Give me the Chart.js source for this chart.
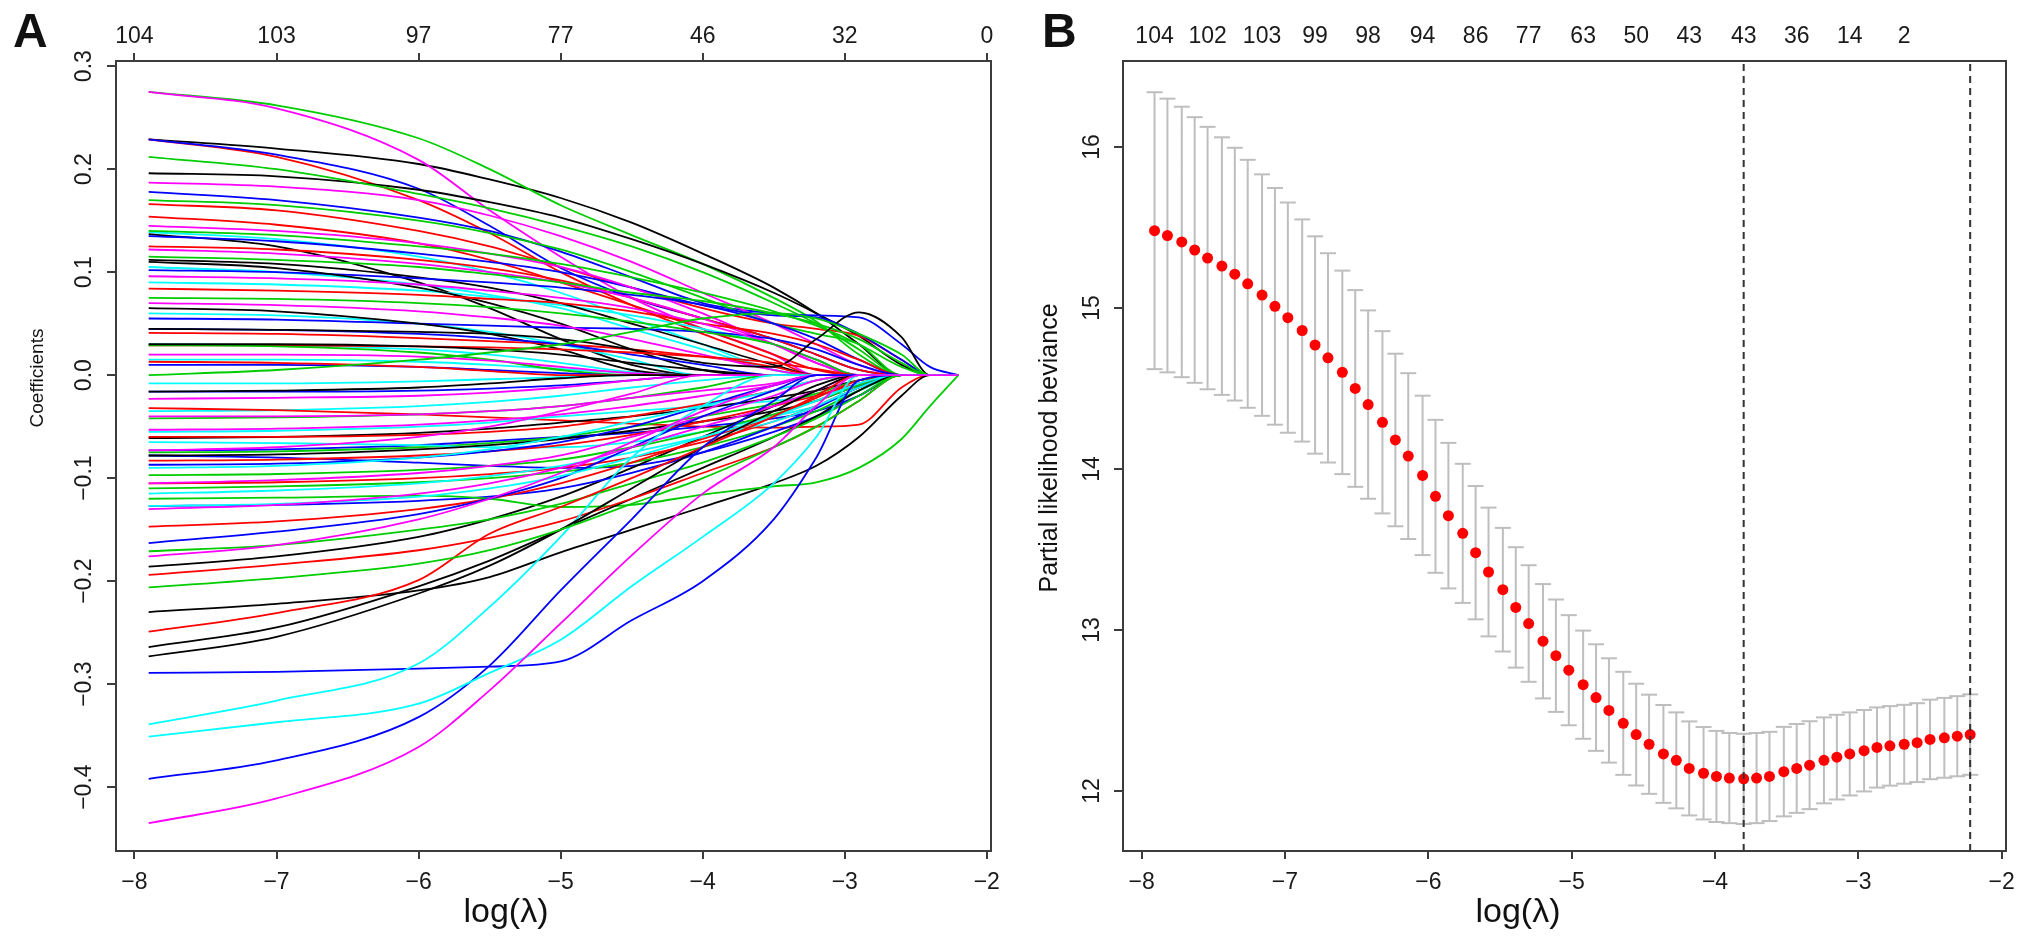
<!DOCTYPE html>
<html>
<head>
<meta charset="utf-8">
<title>LASSO coefficient paths and cross-validation</title>
<script src="https://cdn.jsdelivr.net/npm/chart.js@4.4.1/dist/chart.umd.min.js"></script>
<style>
    html, body { margin: 0; padding: 0; background: #fff; }
    #wrap { position: relative; width: 2031px; height: 950px; overflow: hidden; }
    canvas { position: absolute; top: 0; }
    #panelA { left: 0; }
    #panelB { left: 1010px; }
</style>
</head>
<body>
<div id="wrap">
    <canvas id="panelA" width="1010" height="950"></canvas>
    <canvas id="panelB" width="1021" height="950"></canvas>
</div>
<script>
// ---------- Panel A: coefficient paths ----------
// log(lambda) positions where each path was read off the picture
const pathLogLambda = [-7.9, -7, -6, -5.5, -5, -4.5, -4, -3.5, -3.2, -2.9, -2.6, -2.4, -2.2];

// paths grouped by the colour R cycled through (black, red, green3, blue, cyan, magenta)
const pathsBlack = [
    [0.229, 0.220, 0.205, 0.190, 0.172, 0.148, 0.118, 0.085, 0.060, 0.030, 0, 0, 0],
    [0.196, 0.193, 0.180, 0.168, 0.153, 0.132, 0.108, 0.080, 0.060, 0.038, 0.010, 0, 0],
    [0.137, 0.125, 0.090, 0.065, 0.035, 0.010, 0, 0, 0, 0, 0, 0, 0],
    [0.112, 0.108, 0.095, 0.085, 0.070, 0.050, 0.030, 0.010, 0, 0, 0, 0, 0],
    [0.110, 0.104, 0.085, 0.070, 0.050, 0.025, 0.005, 0, 0, 0, 0, 0, 0],
    [0.065, 0.062, 0.050, 0.040, 0.025, 0.005, 0, 0, 0, 0, 0, 0, 0],
    [0.045, 0.044, 0.042, 0.040, 0.035, 0.025, 0.012, 0.008, 0.035, 0.061, 0.037, 0, 0],
    [0.030, 0.030, 0.028, 0.025, 0.020, 0.012, 0.005, 0, 0, 0, 0, 0, 0],
    [-0.016, -0.015, -0.012, -0.008, -0.003, 0, 0, 0, 0, 0, 0, 0, 0],
    [-0.061, -0.060, -0.056, -0.052, -0.046, -0.040, -0.032, -0.022, -0.015, -0.005, 0, 0, 0],
    [-0.078, -0.077, -0.072, -0.068, -0.062, -0.054, -0.045, -0.035, -0.025, -0.010, 0, 0, 0],
    [-0.186, -0.176, -0.157, -0.140, -0.118, -0.090, -0.060, -0.030, -0.010, 0, 0, 0, 0],
    [-0.230, -0.222, -0.209, -0.196, -0.172, -0.150, -0.128, -0.105, -0.088, -0.060, -0.020, 0, 0],
    [-0.264, -0.245, -0.205, -0.180, -0.150, -0.120, -0.090, -0.060, -0.040, -0.015, 0, 0, 0],
    [-0.273, -0.254, -0.212, -0.185, -0.150, -0.110, -0.070, -0.035, -0.015, 0, 0, 0, 0]
];
const pathsRed = [
    [0.229, 0.212, 0.170, 0.138, 0.100, 0.068, 0.040, 0.015, 0, 0, 0, 0, 0],
    [0.166, 0.160, 0.140, 0.125, 0.105, 0.085, 0.065, 0.050, 0.045, 0.038, 0.015, 0, 0],
    [0.154, 0.146, 0.128, 0.112, 0.090, 0.068, 0.045, 0.020, 0.005, 0, 0, 0, 0],
    [0.125, 0.122, 0.112, 0.104, 0.092, 0.075, 0.055, 0.035, 0.020, 0.005, 0, 0, 0],
    [0.084, 0.082, 0.078, 0.074, 0.070, 0.062, 0.050, 0.040, 0.030, 0.015, 0, 0, 0],
    [0.041, 0.040, 0.036, 0.033, 0.030, 0.025, 0.018, 0.008, 0, 0, 0, 0, 0],
    [0.029, 0.029, 0.028, 0.027, 0.025, 0.022, 0.018, 0.012, 0.006, 0, 0, 0, 0],
    [0.013, 0.012, 0.008, 0.004, 0, 0, 0, 0, 0, 0, 0, 0, 0],
    [-0.032, -0.034, -0.038, -0.041, -0.044, -0.047, -0.050, -0.051, -0.050, -0.048, -0.012, 0, 0],
    [-0.060, -0.060, -0.058, -0.055, -0.050, -0.040, -0.028, -0.015, -0.005, 0, 0, 0, 0],
    [-0.083, -0.082, -0.078, -0.074, -0.068, -0.058, -0.045, -0.030, -0.020, -0.008, 0, 0, 0],
    [-0.105, -0.104, -0.100, -0.096, -0.090, -0.080, -0.065, -0.045, -0.030, -0.012, 0, 0, 0],
    [-0.147, -0.142, -0.130, -0.120, -0.105, -0.085, -0.062, -0.040, -0.022, -0.005, 0, 0, 0],
    [-0.194, -0.184, -0.170, -0.158, -0.142, -0.120, -0.095, -0.070, -0.050, -0.025, 0, 0, 0],
    [-0.249, -0.231, -0.199, -0.154, -0.128, -0.100, -0.070, -0.040, -0.020, 0, 0, 0, 0]
];
const pathsGreen = [
    [0.275, 0.262, 0.230, 0.200, 0.165, 0.136, 0.108, 0.075, 0.052, 0.020, 0, 0, 0],
    [0.212, 0.200, 0.176, 0.162, 0.145, 0.125, 0.100, 0.070, 0.050, 0.025, 0, 0, 0],
    [0.170, 0.165, 0.150, 0.138, 0.122, 0.100, 0.075, 0.050, 0.040, 0.030, 0, 0, 0],
    [0.140, 0.136, 0.125, 0.118, 0.108, 0.095, 0.080, 0.062, 0.048, 0.030, 0.008, 0, 0],
    [0.115, 0.112, 0.105, 0.098, 0.090, 0.080, 0.072, 0.060, 0.050, 0.035, 0.012, 0, 0],
    [0.075, 0.074, 0.070, 0.066, 0.060, 0.052, 0.042, 0.030, 0.015, 0, 0, 0, 0],
    [0.029, 0.028, 0.022, 0.015, 0.005, 0, 0, 0, 0, 0, 0, 0, 0],
    [0, 0.005, 0.015, 0.022, 0.030, 0.042, 0.055, 0.060, 0.055, 0.040, 0.020, 0, 0],
    [-0.042, -0.041, -0.038, -0.035, -0.030, -0.022, -0.012, 0, 0, 0, 0, 0, 0],
    [-0.075, -0.074, -0.070, -0.066, -0.060, -0.050, -0.040, -0.028, -0.018, -0.005, 0, 0, 0],
    [-0.097, -0.096, -0.092, -0.088, -0.082, -0.070, -0.055, -0.038, -0.025, -0.010, 0, 0, 0],
    [-0.110, -0.108, -0.104, -0.100, -0.094, -0.085, -0.070, -0.050, -0.035, -0.015, 0, 0, 0],
    [-0.120, -0.119, -0.117, -0.120, -0.128, -0.126, -0.116, -0.108, -0.104, -0.090, -0.062, -0.030, 0],
    [-0.171, -0.165, -0.150, -0.140, -0.125, -0.105, -0.085, -0.060, -0.042, -0.020, 0, 0, 0],
    [-0.206, -0.197, -0.183, -0.170, -0.150, -0.125, -0.100, -0.070, -0.050, -0.025, 0, 0, 0]
];
const pathsBlue = [
    [0.229, 0.214, 0.181, 0.145, 0.104, 0.075, 0.055, 0.035, 0.020, 0.005, 0, 0, 0],
    [0.178, 0.170, 0.153, 0.140, 0.120, 0.095, 0.070, 0.060, 0.058, 0.056, 0.030, 0.008, 0],
    [0.135, 0.130, 0.118, 0.110, 0.100, 0.085, 0.068, 0.058, 0.056, 0.040, 0.015, 0, 0],
    [0.102, 0.100, 0.094, 0.090, 0.085, 0.078, 0.068, 0.050, 0.035, 0.015, 0, 0, 0],
    [0.055, 0.054, 0.050, 0.048, 0.046, 0.045, 0.042, 0.035, 0.025, 0.010, 0, 0, 0],
    [0.045, 0.044, 0.040, 0.036, 0.030, 0.020, 0.010, 0, 0, 0, 0, 0, 0],
    [0.010, 0.010, 0.008, 0.005, 0.002, 0, 0, 0, 0, 0, 0, 0, 0],
    [-0.016, -0.016, -0.015, -0.013, -0.010, -0.005, 0, 0, 0, 0, 0, 0, 0],
    [-0.073, -0.072, -0.068, -0.064, -0.060, -0.056, -0.050, -0.042, -0.035, -0.020, 0, 0, 0],
    [-0.078, -0.080, -0.085, -0.088, -0.090, -0.088, -0.075, -0.055, -0.040, -0.020, 0, 0, 0],
    [-0.087, -0.086, -0.080, -0.074, -0.065, -0.050, -0.030, -0.010, 0, 0, 0, 0, 0],
    [-0.127, -0.126, -0.122, -0.118, -0.110, -0.095, -0.075, -0.050, -0.032, -0.012, 0, 0, 0],
    [-0.163, -0.152, -0.135, -0.120, -0.100, -0.070, -0.040, -0.015, 0, 0, 0, 0, 0],
    [-0.289, -0.288, -0.285, -0.283, -0.278, -0.238, -0.200, -0.140, -0.080, -0.005, 0, 0, 0],
    [-0.392, -0.374, -0.332, -0.282, -0.209, -0.140, -0.070, -0.025, 0, 0, 0, 0, 0]
];
const pathsCyan = [
    [0.139, 0.132, 0.115, 0.100, 0.080, 0.055, 0.030, 0.005, 0, 0, 0, 0, 0],
    [0.105, 0.100, 0.088, 0.078, 0.065, 0.045, 0.025, 0.005, 0, 0, 0, 0, 0],
    [0.090, 0.088, 0.082, 0.076, 0.068, 0.058, 0.045, 0.030, 0.015, 0, 0, 0, 0],
    [0.060, 0.058, 0.050, 0.042, 0.030, 0.015, 0, 0, 0, 0, 0, 0, 0],
    [0.030, 0.029, 0.025, 0.020, 0.012, 0.003, 0, 0, 0, 0, 0, 0, 0],
    [0.015, 0.015, 0.013, 0.010, 0.006, 0.002, 0, 0, 0, 0, 0, 0, 0],
    [-0.008, -0.008, -0.006, -0.004, -0.002, 0, 0, 0, 0, 0, 0, 0, 0],
    [-0.035, -0.034, -0.030, -0.026, -0.020, -0.012, -0.005, 0, 0, 0, 0, 0, 0],
    [-0.055, -0.054, -0.050, -0.046, -0.040, -0.035, -0.030, -0.025, -0.020, -0.010, 0, 0, 0],
    [-0.065, -0.066, -0.068, -0.070, -0.070, -0.065, -0.055, -0.040, -0.030, -0.015, 0, 0, 0],
    [-0.090, -0.088, -0.080, -0.072, -0.060, -0.045, -0.030, -0.015, -0.005, 0, 0, 0, 0],
    [-0.115, -0.112, -0.105, -0.098, -0.088, -0.075, -0.060, -0.045, -0.030, -0.012, 0, 0, 0],
    [-0.127, -0.125, -0.118, -0.110, -0.098, -0.080, -0.060, -0.040, -0.025, -0.008, 0, 0, 0],
    [-0.339, -0.316, -0.280, -0.225, -0.157, -0.080, -0.030, 0, 0, 0, 0, 0, 0],
    [-0.351, -0.337, -0.319, -0.289, -0.257, -0.205, -0.157, -0.105, -0.060, 0, 0, 0, 0]
];
const pathsMagenta = [
    [0.275, 0.259, 0.209, 0.160, 0.115, 0.075, 0.045, 0.020, 0, 0, 0, 0, 0],
    [0.187, 0.183, 0.170, 0.155, 0.135, 0.110, 0.080, 0.050, 0.030, 0.010, 0, 0, 0],
    [0.145, 0.140, 0.128, 0.118, 0.105, 0.085, 0.060, 0.030, 0.012, 0, 0, 0, 0],
    [0.122, 0.118, 0.108, 0.100, 0.090, 0.075, 0.055, 0.030, 0.012, 0, 0, 0, 0],
    [0.096, 0.094, 0.088, 0.082, 0.075, 0.065, 0.050, 0.030, 0.015, 0, 0, 0, 0],
    [0.070, 0.068, 0.062, 0.056, 0.048, 0.035, 0.020, 0.005, 0, 0, 0, 0, 0],
    [0.020, 0.020, 0.018, 0.014, 0.008, 0.002, 0, 0, 0, 0, 0, 0, 0],
    [-0.023, -0.022, -0.020, -0.017, -0.012, -0.005, 0, 0, 0, 0, 0, 0, 0],
    [-0.040, -0.040, -0.038, -0.035, -0.030, -0.022, -0.015, -0.008, 0, 0, 0, 0, 0],
    [-0.053, -0.052, -0.048, -0.044, -0.038, -0.030, -0.020, -0.010, 0, 0, 0, 0, 0],
    [-0.073, -0.070, -0.060, -0.050, -0.035, -0.018, 0, 0, 0, 0, 0, 0, 0],
    [-0.105, -0.102, -0.095, -0.088, -0.078, -0.060, -0.040, -0.020, -0.005, 0, 0, 0, 0],
    [-0.130, -0.126, -0.115, -0.105, -0.090, -0.070, -0.050, -0.030, -0.015, 0, 0, 0, 0],
    [-0.176, -0.165, -0.140, -0.120, -0.095, -0.065, -0.035, -0.010, 0, 0, 0, 0, 0],
    [-0.435, -0.411, -0.361, -0.306, -0.241, -0.175, -0.115, -0.070, -0.030, 0, 0, 0, 0]
];

const logLambdaTicks = [-8, -7, -6, -5, -4, -3, -2];
const coefTicks = [-0.4, -0.3, -0.2, -0.1, 0, 0.1, 0.2, 0.3];
const dfTopA = ["104", "103", "97", "77", "46", "32", "0"];

// ---------- Panel B: cross-validated partial likelihood deviance ----------
const cvLogLambda = [
    -7.91, -7.82, -7.72, -7.63, -7.54, -7.44, -7.35, -7.26, -7.16, -7.07,
    -6.98, -6.88, -6.79, -6.70, -6.60, -6.51, -6.42, -6.32, -6.23, -6.14,
    -6.04, -5.95, -5.86, -5.76, -5.67, -5.58, -5.48, -5.39, -5.30, -5.20,
    -5.11, -5.02, -4.92, -4.83, -4.74, -4.64, -4.55, -4.46, -4.36, -4.27,
    -4.18, -4.08, -3.99, -3.90, -3.80, -3.71, -3.62, -3.52, -3.43, -3.34,
    -3.24, -3.15, -3.06, -2.96, -2.87, -2.78, -2.68, -2.59, -2.50, -2.40,
    -2.31, -2.22
];
const cvMean = [
    15.48, 15.45, 15.41, 15.36, 15.31, 15.26, 15.21, 15.15, 15.08, 15.01,
    14.94, 14.86, 14.77, 14.69, 14.60, 14.50, 14.40, 14.29, 14.18, 14.08,
    13.96, 13.83, 13.71, 13.60, 13.48, 13.36, 13.25, 13.14, 13.04, 12.93,
    12.84, 12.75, 12.66, 12.58, 12.50, 12.42, 12.35, 12.29, 12.23, 12.19,
    12.14, 12.11, 12.09, 12.08, 12.075, 12.08, 12.09, 12.12, 12.14, 12.16,
    12.19, 12.21, 12.23, 12.25, 12.27, 12.28, 12.29, 12.30, 12.32, 12.33,
    12.34, 12.35
];
const cvSd = [
    0.86, 0.85, 0.84, 0.825, 0.815, 0.80, 0.785, 0.77, 0.75, 0.735,
    0.715, 0.69, 0.675, 0.65, 0.632, 0.611, 0.585, 0.566, 0.536, 0.515,
    0.495, 0.475, 0.452, 0.432, 0.414, 0.400, 0.384, 0.374, 0.362, 0.355,
    0.349, 0.342, 0.336, 0.331, 0.324, 0.320, 0.316, 0.308, 0.304, 0.298,
    0.292, 0.287, 0.283, 0.280, 0.280, 0.280, 0.277, 0.278, 0.276, 0.273,
    0.267, 0.263, 0.258, 0.253, 0.249, 0.247, 0.245, 0.245, 0.247, 0.248,
    0.249, 0.250
];
const devianceTicks = [12, 13, 14, 15, 16];
// df labels along the top, one for every 4th lambda
const dfTopB = ["104", "102", "103", "99", "98", "94", "86", "77", "63", "50", "43", "43", "36", "14", "2"];
const logLambdaMin = -3.80;
const logLambda1se = -2.22;

// ---------- drawing ----------
const FONT = '"Liberation Sans", Arial, Helvetica, sans-serif';
const AXIS = "#3c3c3c";
const TEXT = "#1a1a1a";
const X_MIN = -8.13, X_MAX = -1.97;
const palette = ["#000000", "#FF0000", "#00CD00", "#0000FF", "#00FFFF", "#FF00FF"];

Chart.defaults.font.family = FONT;
Chart.defaults.color = TEXT;

const minus = v => (v < 0 ? "\u2212" : "") + Math.abs(v);
const fmt1 = v => (v < 0 ? "\u2212" : "") + Math.abs(v).toFixed(1);

// titles and panel letters, drawn on the canvas after the chart
const panelText = {
    id: "panelText",
    afterDraw(chart, args, o) {
        const ctx = chart.ctx;
        ctx.save();
        ctx.fillStyle = "#111";
        ctx.textAlign = "left";
        ctx.textBaseline = "alphabetic";
        ctx.font = "bold 48px " + FONT;
        ctx.fillText(o.letter, o.letterX, 47);
        ctx.textAlign = "center";
        ctx.textBaseline = "middle";
        ctx.font = "34px " + FONT;
        ctx.fillText("log(\u03bb)", o.xTitleX, 913);
        ctx.translate(o.yTitleX, o.yTitleY);
        ctx.rotate(-Math.PI / 2);
        ctx.font = o.yTitleSize + "px " + FONT;
        ctx.fillText(o.yTitle, 0, 0);
        ctx.restore();
    }
};

function tickGrid(len) {
    return { display: true, drawOnChartArea: false, drawTicks: true, tickLength: len, color: AXIS, lineWidth: 2 };
}
function frameOnly(position, size, min, max) {
    return {
        type: "linear", position: position, min: min, max: max,
        ticks: { display: false },
        grid: { display: false, drawTicks: false },
        border: { display: true, color: AXIS, width: 2 },
        afterFit: s => { if (position === "right") s.width = size; else s.height = size; }
    };
}
function bottomAxis() {
    return {
        type: "linear", position: "bottom", min: X_MIN, max: X_MAX,
        afterBuildTicks: s => { s.ticks = logLambdaTicks.map(v => ({ value: v })); },
        ticks: { font: { size: 23 }, color: TEXT, padding: 10, autoSkip: false, maxRotation: 0, callback: v => minus(v) },
        grid: tickGrid(8),
        border: { display: true, color: AXIS, width: 2 },
        afterFit: s => { s.height = 99; }
    };
}
const baseOptions = {
    responsive: false,
    animation: false,
    events: [],
    layout: { padding: 0, autoPadding: false },
    plugins: { legend: { display: false }, tooltip: { enabled: false } }
};

// Panel A datasets, in R's column order (colour cycles every variable)
const colourGroups = [pathsBlack, pathsRed, pathsGreen, pathsBlue, pathsCyan, pathsMagenta];
const pathSets = [];
for (let i = 0; i < pathsBlack.length; i++) {
    colourGroups.forEach((group, c) => {
        pathSets.push({
            data: pathLogLambda.map((x, k) => ({ x: x, y: group[i][k] })),
            borderColor: palette[c],
            borderWidth: 1.8,
            pointRadius: 0,
            fill: false,
            cubicInterpolationMode: "monotone"
        });
    });
}
pathSets.reverse(); // later variables on top, as in matplot

new Chart(document.getElementById("panelA").getContext("2d"), {
    type: "line",
    data: { datasets: pathSets },
    options: Object.assign({}, baseOptions, {
        scales: {
            x: bottomAxis(),
            x2: {
                type: "linear", position: "top", min: X_MIN, max: X_MAX,
                afterBuildTicks: s => { s.ticks = logLambdaTicks.map(v => ({ value: v })); },
                ticks: { font: { size: 23 }, color: TEXT, padding: 3, autoSkip: false, maxRotation: 0, callback: (v, i) => dfTopA[i] },
                grid: tickGrid(8),
                border: { display: true, color: AXIS, width: 2 },
                afterFit: s => { s.height = 61; }
            },
            y: {
                type: "linear", position: "left", min: -0.462, max: 0.305,
                afterBuildTicks: s => { s.ticks = coefTicks.map(v => ({ value: v })); },
                ticks: { font: { size: 23 }, color: TEXT, padding: 0, minRotation: 90, maxRotation: 90, crossAlign: "center", autoSkip: false, callback: v => fmt1(v) },
                grid: tickGrid(9),
                border: { display: true, color: AXIS, width: 2 },
                afterFit: s => { s.width = 116; }
            },
            y2: frameOnly("right", 11, -0.462, 0.305)
        },
        plugins: Object.assign({}, baseOptions.plugins, {
            panelText: { letter: "A", letterX: 13, xTitleX: 506, yTitle: "Coefficients", yTitleX: 38, yTitleY: 378, yTitleSize: 19 }
        })
    }),
    plugins: [panelText]
});

// Panel B datasets: error bars, caps, points, reference lines
const DEV_MIN = 11.627, DEV_MAX = 16.534;
const barSegments = [];
cvLogLambda.forEach((x, i) => {
    barSegments.push({ x: x, y: cvMean[i] - cvSd[i] }, { x: x, y: cvMean[i] + cvSd[i] }, { x: x, y: null });
});
const upperCaps = cvLogLambda.map((x, i) => ({ x: x, y: cvMean[i] + cvSd[i] }));
const lowerCaps = cvLogLambda.map((x, i) => ({ x: x, y: cvMean[i] - cvSd[i] }));
const meanPoints = cvLogLambda.map((x, i) => ({ x: x, y: cvMean[i] }));
const dfTopPositions = dfTopB.map((d, j) => cvLogLambda[j * 4]);

function vline(x) {
    return {
        data: [{ x: x, y: DEV_MIN }, { x: x, y: DEV_MAX }],
        borderColor: "#333", borderWidth: 2, borderDash: [7, 5], pointRadius: 0, fill: false
    };
}
function caps(points) {
    return {
        data: points, showLine: false, pointStyle: "line", pointRadius: 8,
        pointBorderColor: "#BEBEBE", pointBorderWidth: 2, pointBackgroundColor: "#BEBEBE"
    };
}

new Chart(document.getElementById("panelB").getContext("2d"), {
    type: "line",
    data: {
        datasets: [
            vline(logLambdaMin),
            vline(logLambda1se),
            { data: meanPoints, showLine: false, pointRadius: 5.5, pointBackgroundColor: "#FF0000", pointBorderWidth: 0, pointStyle: "circle" },
            caps(upperCaps),
            caps(lowerCaps),
            { data: barSegments, borderColor: "#BEBEBE", borderWidth: 2, pointRadius: 0, spanGaps: false, fill: false }
        ]
    },
    options: Object.assign({}, baseOptions, {
        scales: {
            x: bottomAxis(),
            x2: {
                type: "linear", position: "top", min: X_MIN, max: X_MAX,
                afterBuildTicks: s => { s.ticks = dfTopPositions.map(v => ({ value: v })); },
                ticks: { font: { size: 23 }, color: TEXT, padding: 11, autoSkip: false, maxRotation: 0, callback: (v, i) => dfTopB[i] },
                grid: { display: false, drawTicks: false },
                border: { display: true, color: AXIS, width: 2 },
                afterFit: s => { s.height = 61; }
            },
            y: {
                type: "linear", position: "left", min: DEV_MIN, max: DEV_MAX,
                afterBuildTicks: s => { s.ticks = devianceTicks.map(v => ({ value: v })); },
                ticks: { font: { size: 23 }, color: TEXT, padding: 9, minRotation: 90, maxRotation: 90, crossAlign: "center", autoSkip: false },
                grid: tickGrid(9),
                border: { display: true, color: AXIS, width: 2 },
                afterFit: s => { s.width = 113; }
            },
            y2: frameOnly("right", 25, DEV_MIN, DEV_MAX)
        },
        plugins: Object.assign({}, baseOptions.plugins, {
            panelText: { letter: "B", letterX: 32, xTitleX: 508, yTitle: "Partial likelihood beviance", yTitleX: 40, yTitleY: 448, yTitleSize: 25 }
        })
    }),
    plugins: [panelText]
});
</script>
</body>
</html>
